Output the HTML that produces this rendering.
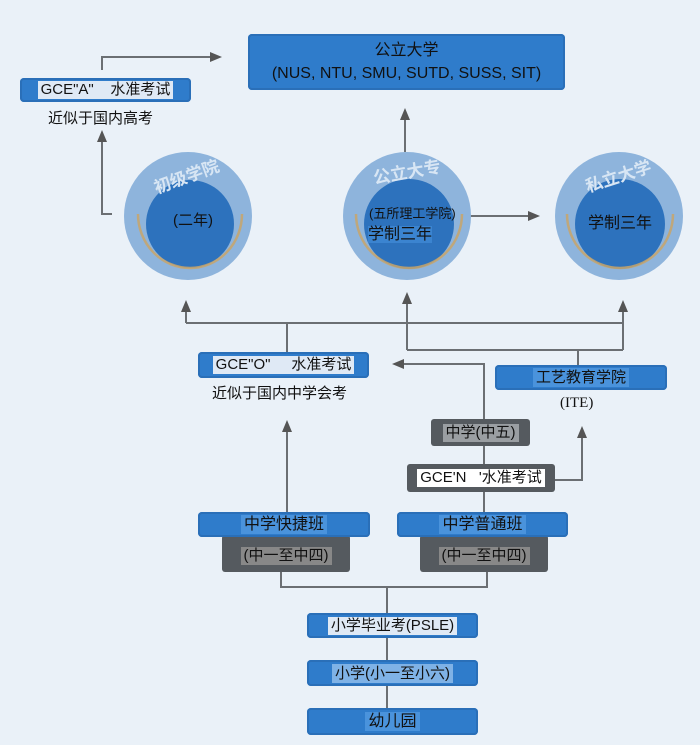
<!DOCTYPE html>
<html><head><meta charset="utf-8"><style>
body{margin:0;width:700px;height:745px;background:#eaf1f8;position:relative;overflow:hidden;font-family:"Liberation Sans","Noto Sans CJK SC",sans-serif}
.b{position:absolute;background:#2f7ccb;border-radius:4px;color:#111;display:flex;align-items:center;justify-content:center;font-size:15px;box-shadow:inset 0 0 0 2px #2a6fb8}
.g{position:absolute;background:#555a5f;border-radius:3px;color:#111;display:flex;align-items:center;justify-content:center;font-size:15px}
.hl{background:#dfe9f5;padding:0 3px;line-height:18px}
.hb{background:#4a93dc;padding:0 3px;line-height:19px}
.t{position:absolute;font-size:15px;color:#111;white-space:nowrap}
</style></head><body>
<svg width="700" height="745" style="position:absolute;left:0;top:0">
<defs><marker id="a" markerUnits="userSpaceOnUse" markerWidth="12" markerHeight="12" refX="6" refY="6" orient="auto"><path d="M0,1 L12,6 L0,11 z" fill="#555"/></marker></defs>
<g stroke="#6b6f73" stroke-width="2" fill="none">
<path d="M102,70 V57 H216" marker-end="url(#a)"/>
<path d="M112,214 H102 V136" marker-end="url(#a)"/>
<path d="M405,152 V114" marker-end="url(#a)"/>
<path d="M470,216 H534" marker-end="url(#a)"/>
<path d="M186,323 H623"/>
<path d="M186,323 V306" marker-end="url(#a)"/>
<path d="M623,350 V306" marker-end="url(#a)"/>
<path d="M407,350 V298" marker-end="url(#a)"/>
<path d="M407,350 H623"/>
<path d="M578,350 V366"/>
<path d="M287,323 V353"/>
<path d="M484,420 V364 H398" marker-end="url(#a)"/>
<path d="M287,512 V426" marker-end="url(#a)"/>
<path d="M484,446 V465"/>
<path d="M555,480 H582 V432" marker-end="url(#a)"/>
<path d="M484,492 V513"/>
<path d="M281,572 V587 H487 V572"/>
<path d="M387,587 V613"/>
<path d="M387,638 V661"/>
<path d="M387,686 V709"/>
</g>
<g>
<circle cx="188" cy="216" r="64" fill="#8eb4dc"/><circle cx="190" cy="224" r="44" fill="#2d72bd"/>
<path d="M138,214 A52,54 0 0 0 242,214" stroke="#c8a46a" stroke-width="2.5" fill="none" opacity="0.85"/>
<circle cx="407" cy="216" r="64" fill="#8eb4dc"/><circle cx="409" cy="224" r="45" fill="#2d72bd"/>
<path d="M356,214 A53,54 0 0 0 462,214" stroke="#c8a46a" stroke-width="2.5" fill="none" opacity="0.85"/>
<circle cx="619" cy="216" r="64" fill="#8eb4dc"/><circle cx="620" cy="224" r="45" fill="#2d72bd"/>
<path d="M567,214 A53,54 0 0 0 673,214" stroke="#c8a46a" stroke-width="2.5" fill="none" opacity="0.85"/>
</g>
<g font-family="Liberation Sans,Noto Sans CJK SC,sans-serif" font-size="17" fill="#d8e6f4" font-weight="bold">
<text x="152" y="182" transform="rotate(-20 188 175)">初级学院</text>
<text x="373" y="178" transform="rotate(-10 407 172)">公立大专</text>
<text x="584" y="182" transform="rotate(-18 619 175)">私立大学</text>
</g>
</svg>
<div class="b" style="left:248px;top:34px;width:317px;height:56px;flex-direction:column;font-size:16px;line-height:23px"><span>公立大学</span><span>(NUS, NTU, SMU, SUTD, SUSS, SIT)</span></div>
<div class="b" style="left:20px;top:78px;width:171px;height:24px"><span class="hl">GCE"A" &nbsp;&nbsp; 水准考试</span></div>
<div class="t" style="left:48px;top:107px">近似于国内高考</div>
<div class="t" style="left:173px;top:209px">(二年)</div>
<div class="t" style="left:369px;top:203px;font-size:13px">(五所理工学院)</div>
<div class="t" style="left:368px;top:220px;font-size:16px"><span style="background:#3b84d0">学制三年</span></div>
<div class="t" style="left:588px;top:209px;font-size:16px">学制三年</div>
<div class="b" style="left:198px;top:352px;width:171px;height:26px"><span class="hl">GCE"O" &nbsp;&nbsp;&nbsp; 水准考试</span></div>
<div class="t" style="left:212px;top:382px">近似于国内中学会考</div>
<div class="b" style="left:495px;top:365px;width:172px;height:25px"><span class="hb">工艺教育学院</span></div>
<div class="t" style="left:560px;top:395px;font-family:'Liberation Serif',serif">(ITE)</div>
<div class="g" style="left:431px;top:419px;width:99px;height:27px"><span class="hl" style="background:#9a9ea2">中学(中五)</span></div>
<div class="g" style="left:407px;top:464px;width:148px;height:28px"><span class="hl" style="background:#fff">GCE'N &nbsp; '水准考试</span></div>
<div class="g" style="left:222px;top:535px;width:128px;height:37px;padding-top:4px;box-sizing:border-box"><span class="hl" style="background:#888">(中一至中四)</span></div>
<div class="g" style="left:420px;top:535px;width:128px;height:37px;padding-top:4px;box-sizing:border-box"><span class="hl" style="background:#888">(中一至中四)</span></div>
<div class="b" style="left:198px;top:512px;width:172px;height:25px;font-size:16px"><span class="hb">中学快捷班</span></div>
<div class="b" style="left:397px;top:512px;width:171px;height:25px;font-size:16px"><span class="hb">中学普通班</span></div>
<div class="b" style="left:307px;top:613px;width:171px;height:25px"><span class="hl">小学毕业考(PSLE)</span></div>
<div class="b" style="left:307px;top:660px;width:171px;height:26px"><span class="hb" style="background:#7fb2e6">小学(小一至小六)</span></div>
<div class="b" style="left:307px;top:708px;width:171px;height:27px;font-size:16px"><span class="hb">幼儿园</span></div>
</body></html>
